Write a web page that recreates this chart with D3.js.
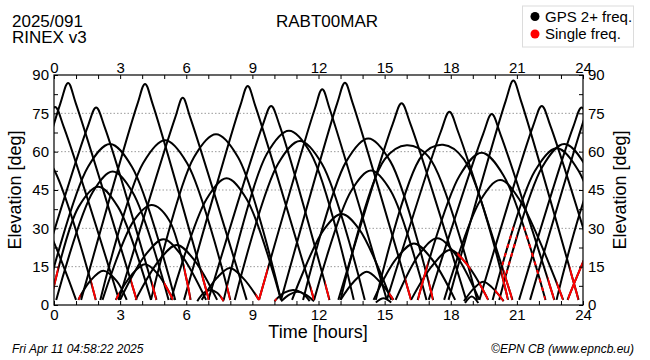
<!DOCTYPE html>
<html><head><meta charset="utf-8">
<script src="https://cdn.jsdelivr.net/npm/d3@7"></script>
<style>body{margin:0;background:#fff}svg{display:block;font-family:"Liberation Sans",Arial,Helvetica,sans-serif}</style>
</head><body><svg id="c" width="650" height="360"></svg>
<script>
// ---- data ----
const hourTicks = [0,1,2,3,4,5,6,7,8,9,10,11,12,13,14,15,16,17,18,19,20,21,22,23,24];
const hourLabels = [0,3,6,9,12,15,18,21,24];
const elevTicks = [0,7.5,15,22.5,30,37.5,45,52.5,60,67.5,75,82.5,90];
const elevLabels = [0,15,30,45,60,75,90];
const gridLevels = [15,30,45,60,75];
const legendLabels = ["GPS 2+ freq.", "Single freq."];
const legendColors = ["#000000", "#ff0000"];

// satellite passes: [time (h), elevation (deg)] points
const passIds = ["P1","P2","P3","A","B","C","D","E","F","G","H","I","J","K","L","M","N","O","P","Q",
  "R","S","T","U","V","W","X","Y","Z","AA","AB","AC","AE","AF","AG","AH","AI","AJ","AK","AL","AM","AN",
  "AO","AP","AQ","AR","AS","RP1","RP2","RP3","SA1","SA2","SA3"];
const passPoints = [
  [[-2.85,2],[-0.35,69.5],[0.05,77.5],[0.45,69.5],[2.95,2]],
  [[-4,2],[-2,55],[-1,64],[0,53],[1.9,2]],
  [[-4,2],[-2.5,37],[-1.6,45],[-0.7,37],[1.0,2]],
  [[-2.3,2],[0.29,78.9],[0.64,86.9],[0.99,78.9],[3.75,2]],
  [[-0.95,2],[1.51,69.3],[1.91,77.3],[2.31,69.3],[4.65,2]],
  [[1.23,2],[3.78,78.5],[4.13,86.5],[4.48,78.5],[7.03,2]],
  [[2.94,2],[5.49,73.1],[5.84,81.1],[6.19,73.1],[8.74,2]],
  [[4.4,2],[6.35,57.8],[7.35,66.8],[8.35,57.8],[10.3,2]],
  [[2.1,2],[4.04,55.5],[5.04,64.5],[6.04,55.5],[8.0,2]],
  [[-0.4,2],[1.54,54],[2.54,63],[3.54,54],[5.5,2]],
  [[0.1,2],[1.76,44.2],[2.66,52.2],[3.56,44.2],[5.2,2]],
  [[-0.15,2],[1.11,38.3],[2.01,46.3],[2.91,38.3],[4.4,2]],
  [[2.2,2],[3.63,33.1],[4.43,39.1],[5.23,33.1],[6.2,2]],
  [[3.0,2],[4.16,19.7],[4.96,25.7],[5.76,19.7],[6.9,2]],
  [[3.7,2],[4.77,17.5],[5.57,23.5],[6.37,17.5],[7.4,2]],
  [[2.8,2],[3.53,11.9],[4.13,15.9],[4.73,11.9],[5.4,2]],
  [[1.1,2],[1.64,9.4],[2.24,13.4],[2.84,9.4],[3.3,2]],
  [[5.3,2],[6.93,41.6],[7.83,49.6],[8.73,41.6],[10.3,2]],
  [[6.7,2],[7.38,10.5],[7.98,14.5],[8.58,10.5],[9.3,2]],
  [[6.5,1.5],[6.8,4.8],[7.1,5.9],[7.4,4.8],[7.7,1.5]],
  [[5.9,2],[8.44,77.7],[8.79,85.7],[9.14,77.7],[11.8,2]],
  [[7.0,2],[9.45,69.9],[9.85,77.9],[10.25,69.9],[12.5,2]],
  [[7.7,2],[9.66,59.2],[10.66,68.2],[11.66,59.2],[13.6,2]],
  [[8.2,2],[10.16,55.2],[11.16,64.2],[12.16,55.2],[14.1,2]],
  [[9.3,2],[11.82,76.4],[12.17,84.4],[12.52,76.4],[15.1,2]],
  [[10.3,2],[12.85,79],[13.2,87],[13.55,79],[16.2,2]],
  [[11.3,2],[13.26,56.2],[14.26,65.2],[15.26,56.2],[17.2,2]],
  [[11.8,2],[13.48,44.6],[14.38,52.6],[15.28,44.6],[16.9,2]],
  [[10.8,2],[12.25,29.6],[13.05,35.6],[13.85,29.6],[15.3,2]],
  [[13.0,2],[13.59,9],[14.19,13],[14.79,9],[15.4,2]],
  [[12.9,2],[15.37,70.9],[15.77,78.9],[16.17,70.9],[18.7,2]],
  [[13.0,2],[15.0,57],[16.0,62.5],[17.0,58],[19.2,2]],
  [[15.1,2],[17.54,67.6],[17.94,75.6],[18.34,67.6],[20.8,2]],
  [[14.6,2],[16.7,58.5],[17.65,62.7],[18.6,57],[20.6,2]],
  [[17.0,2],[19.46,66.7],[19.86,74.7],[20.26,66.7],[22.7,2]],
  [[17.9,2],[20.49,79.8],[20.84,87.8],[21.19,79.8],[23.8,2]],
  [[19.3,2],[21.73,69.9],[22.13,77.9],[22.53,69.9],[25.0,2]],
  [[21.1,2],[23.54,69.3],[23.94,77.3],[24.34,69.3],[26.8,2]],
  [[16.5,2],[18.4,50.6],[19.4,59.6],[20.4,50.6],[22.3,2]],
  [[17.7,2],[19.34,40.9],[20.24,48.9],[21.14,40.9],[23.1,2]],
  [[20.2,2],[22.15,54],[23.15,63],[24.15,54],[26.1,2]],
  [[19.9,2],[21.81,52.3],[22.81,61.3],[23.81,52.3],[25.7,2]],
  [[14.5,2],[15.53,18.1],[16.33,24.1],[17.13,18.1],[18.2,2]],
  [[15.5,2],[16.59,20.1],[17.39,26.1],[18.19,20.1],[19.3,2]],
  [[16.2,2],[17.17,15.5],[17.97,21.5],[18.77,15.5],[19.7,2]],
  [[18.6,1.5],[19.08,6.8],[19.48,9.1],[19.88,6.8],[20.4,1.5]],
  [[18.65,0.8],[18.95,3.3],[19.25,0.8]],
  [[21.6,2],[24.1,74],[24.45,82],[24.8,74],[27.3,2]],
  [[22.8,2],[24.6,53],[25.6,62],[26.6,53],[28.4,2]],
  [[23.3,2],[25.0,34],[25.8,40],[26.6,34],[28.3,2]],
  [[10.0,1.5],[10.45,4.8],[10.85,5.9],[11.25,4.8],[11.6,1.5]],
  [[10.3,1.5],[10.7,4.2],[11.05,5.2],[11.4,4.2],[11.8,1.5]],
  [[14.6,1],[14.95,2.6],[15.3,1]]
];
// single-frequency portions: [pass id, from (h), to (h), broken]
const singleFreqSegments = [
  ["I",-0.2,0.2,0],["N",1.1,1.2,0],["P2",1.7,1.9,0],["M",2.8,2.95,0],["A",3.5,3.75,0],
  ["B",4.45,4.65,0],["M",5.0,5.4,0],["J",5.9,6.2,0],["C",6.7,7.03,0],["Q",7.55,7.7,0],
  ["F",7.85,8.0,0],["P",9.15,9.3,0],["V",9.3,9.7,0],["SA1",10.0,10.1,0],["R",11.65,11.8,0],
  ["S",12.3,12.5,0],["AA",15.2,15.4,0],["W",15.95,16.2,0],["AK",16.5,16.95,0],["X",17.0,17.2,0],
  ["AQ",18.3,18.9,0],["AQ",19.3,19.7,0],["AR",20.0,20.4,0],["AE",20.4,20.8,0],["AF",20.3,20.6,0],
  ["AN",20.3,20.85,1],["AM",20.5,21.0,1],["AK",21.3,22.3,1],["AG",22.4,22.7,0],["AL",22.8,23.1,0],
  ["AH",23.4,23.8,0],["RP3",23.3,24,0]
];

// ---- drawing ----
const svg = d3.select("#c");
const L = 54, R = 583, T = 75, B = 305;
const x = d3.scaleLinear().domain([0,24]).range([L,R]);
const y = d3.scaleLinear().domain([0,90]).range([B,T]);

const defs = svg.append("defs");
defs.append("clipPath").attr("id","plotclip").append("rect")
  .attr("x",L).attr("y",T).attr("width",R-L).attr("height",B-T);

// grid
svg.append("g").selectAll("line").data(gridLevels).join("line")
  .attr("x1",L).attr("x2",R).attr("y1",d=>y(d)).attr("y2",d=>y(d))
  .attr("stroke","#9a9a9a").attr("stroke-width",1).attr("stroke-dasharray","1.5,2");

const line = d3.line().x(d=>x(d[0])).y(d=>y(d[1])).curve(d3.curveCatmullRom.alpha(0.5));

const gLines = svg.append("g").attr("clip-path","url(#plotclip)");
gLines.selectAll("path.pass").data(passPoints).join("path")
  .attr("class","pass").attr("d",line)
  .attr("fill","none").attr("stroke","#000").attr("stroke-width",2).attr("stroke-linejoin","round");

// single frequency (red) parts
const gRed = svg.append("g").attr("clip-path","url(#plotclip)");
singleFreqSegments.forEach((s,i)=>{
  const pts = passPoints[passIds.indexOf(s[0])];
  defs.append("clipPath").attr("id","sf"+i).append("rect")
    .attr("x",x(s[1])).attr("y",T-5).attr("width",x(s[2])-x(s[1])).attr("height",B-T+10);
  gRed.append("g").attr("clip-path","url(#sf"+i+")").append("path")
    .attr("d",line(pts)).attr("fill","none").attr("stroke","#ff0000").attr("stroke-width",2)
    .attr("stroke-dasharray", s[3] ? "4,5" : null);
});

// frame
svg.append("rect").attr("x",L).attr("y",T).attr("width",R-L).attr("height",B-T)
  .attr("fill","none").attr("stroke","#000").attr("stroke-width",1.2);

function styleAxis(g){
  g.select(".domain").remove();
  g.selectAll(".tick line").attr("stroke","#000").attr("stroke-width",1);
  g.selectAll(".tick text").attr("font-family","Liberation Sans, Arial, sans-serif").attr("font-size",15).attr("fill","#000");
}
const fmtH = d => hourLabels.includes(d) ? d : "";
const fmtE = d => elevLabels.includes(d) ? d : "";
svg.append("g").attr("transform",`translate(0,${T})`)
  .call(d3.axisTop(x).tickValues(hourTicks).tickFormat(fmtH).tickSizeInner(-4).tickSizeOuter(0).tickPadding(2)).call(styleAxis);
svg.append("g").attr("transform",`translate(0,${B})`)
  .call(d3.axisBottom(x).tickValues(hourTicks).tickFormat(fmtH).tickSizeInner(-4).tickSizeOuter(0).tickPadding(4)).call(styleAxis);
svg.append("g").attr("transform",`translate(${L},0)`)
  .call(d3.axisLeft(y).tickValues(elevTicks).tickFormat(fmtE).tickSizeInner(-4).tickSizeOuter(0).tickPadding(5)).call(styleAxis);
svg.append("g").attr("transform",`translate(${R},0)`)
  .call(d3.axisRight(y).tickValues(elevTicks).tickFormat(fmtE).tickSizeInner(-4).tickSizeOuter(0).tickPadding(5)).call(styleAxis);

// texts
const txt = (t,xx,yy,size,anchor,extra)=>{
  const e = svg.append("text").attr("x",xx).attr("y",yy).attr("font-size",size)
    .attr("text-anchor",anchor||"start").attr("fill","#000").text(t);
  if(extra) extra(e);
  return e;
};
txt("2025/091",12,27,17);
txt("RINEX v3",12,42.5,17);
txt("RABT00MAR",327,27,17,"middle");
txt("Time [hours]",318,338,18,"middle");
txt("Elevation [deg]",0,0,18,"middle",e=>e.attr("x",null).attr("y",null).attr("transform","translate(20.5,190) rotate(-90)"));
txt("Elevation [deg]",0,0,18,"middle",e=>e.attr("x",null).attr("y",null).attr("transform","translate(626,190) rotate(-90)"));
txt("Fri Apr 11 04:58:22 2025",12,353,12,"start",e=>e.attr("font-style","italic"));
txt("©EPN CB (www.epncb.eu)",634,353,12,"end",e=>e.attr("font-style","italic"));

// legend
const lg = svg.append("g");
lg.append("rect").attr("x",522.5).attr("y",6).attr("width",111).attr("height",41)
  .attr("fill","#fff").attr("stroke","#dcdcdc").attr("stroke-width",1);
legendLabels.forEach((lab,i)=>{
  lg.append("circle").attr("cx",535).attr("cy",16.5+i*17.5).attr("r",4.5).attr("fill",legendColors[i]);
  lg.append("text").attr("x",545).attr("y",21.5+i*17.5).attr("font-size",15).attr("fill","#000").text(lab);
});
</script></body></html>
